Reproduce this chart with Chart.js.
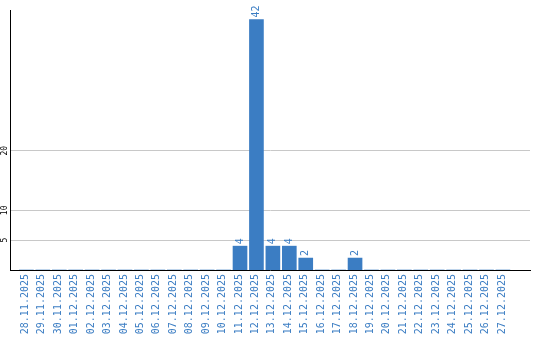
<!DOCTYPE html>
<html>
<head>
<meta charset="utf-8">
<script src="https://cdn.jsdelivr.net/npm/chart.js@4/dist/chart.umd.min.js"></script>
<style>
  html, body { margin: 0; padding: 0; background: #fff; }
  #wrap { width: 540px; height: 340px; }
</style>
</head>
<body>
<div id="wrap"><canvas id="chart" width="540" height="340"></canvas></div>
<script>
const dates = [
    '28.11.2025', '29.11.2025', '30.11.2025', '01.12.2025', '02.12.2025', '03.12.2025',
    '04.12.2025', '05.12.2025', '06.12.2025', '07.12.2025', '08.12.2025', '09.12.2025',
    '10.12.2025', '11.12.2025', '12.12.2025', '13.12.2025', '14.12.2025', '15.12.2025',
    '16.12.2025', '17.12.2025', '18.12.2025', '19.12.2025', '20.12.2025', '21.12.2025',
    '22.12.2025', '23.12.2025', '24.12.2025', '25.12.2025', '26.12.2025', '27.12.2025'
];
const counts = [0, 0, 0, 0, 0, 0, 0, 0, 0, 0, 0, 0, 0, 4, 42, 4, 4, 2, 0, 0, 2, 0, 0, 0, 0, 0, 0, 0, 0, 0];
const yTicks = [5, 10, 20];

const blue = '#3b7dc3';
const mono = '"DejaVu Sans Mono", monospace';

// rotated y tick labels and value labels above the bars
const rotatedText = {
    id: 'rotatedText',
    afterDatasetsDraw(chart) {
        const ctx = chart.ctx;
        const y = chart.scales.y;
        ctx.save();
        ctx.fillStyle = '#000';
        ctx.font = '8px ' + mono;
        ctx.textAlign = 'center';
        ctx.textBaseline = 'middle';
        yTicks.forEach(function (v) {
            ctx.save();
            ctx.translate(5, y.getPixelForValue(v));
            ctx.rotate(-Math.PI / 2);
            ctx.fillText(String(v), 0, 0);
            ctx.restore();
        });

        ctx.fillStyle = blue;
        ctx.font = '10px ' + mono;
        ctx.textAlign = 'left';
        const meta = chart.getDatasetMeta(0);
        meta.data.forEach(function (bar, i) {
            if (!counts[i]) return;
            ctx.save();
            ctx.translate(bar.x, bar.y - 2);
            ctx.rotate(-Math.PI / 2);
            ctx.fillText(String(counts[i]), 0, 0);
            ctx.restore();
        });
        ctx.restore();
    }
};

new Chart(document.getElementById('chart'), {
    type: 'bar',
    data: {
        datasets: [{
            data: counts.map((v, i) => ({ x: i, y: v })),
            backgroundColor: blue,
            borderWidth: 0,
            barThickness: 14
        }]
    },
    options: {
        responsive: false,
        animation: false,
        events: [],
        layout: { padding: { top: 10, right: 10, left: 0, bottom: 0 } },
        plugins: { legend: { display: false }, tooltip: { enabled: false } },
        scales: {
            x: {
                type: 'linear',
                min: -0.47,
                max: 30.12,
                afterBuildTicks: function (scale) {
                    scale.ticks = dates.map((d, i) => ({ value: i }));
                },
                afterFit: function (scale) { scale.height = 70; },
                ticks: {
                    autoSkip: false,
                    minRotation: 90,
                    maxRotation: 90,
                    padding: 4,
                    labelOffset: -1,
                    color: blue,
                    font: { family: mono, size: 10 },
                    callback: (v) => dates[v]
                },
                grid: { display: false, drawTicks: false },
                border: { color: '#000', width: 1 }
            },
            y: {
                min: 0,
                max: 43.6,
                afterBuildTicks: function (scale) {
                    scale.ticks = yTicks.map(v => ({ value: v }));
                },
                afterFit: function (scale) { scale.width = 10; },
                ticks: { display: false },
                grid: { color: '#c8c8c8', drawTicks: false },
                border: { color: '#000', width: 1 }
            }
        }
    },
    plugins: [rotatedText]
});
</script>
</body>
</html>
